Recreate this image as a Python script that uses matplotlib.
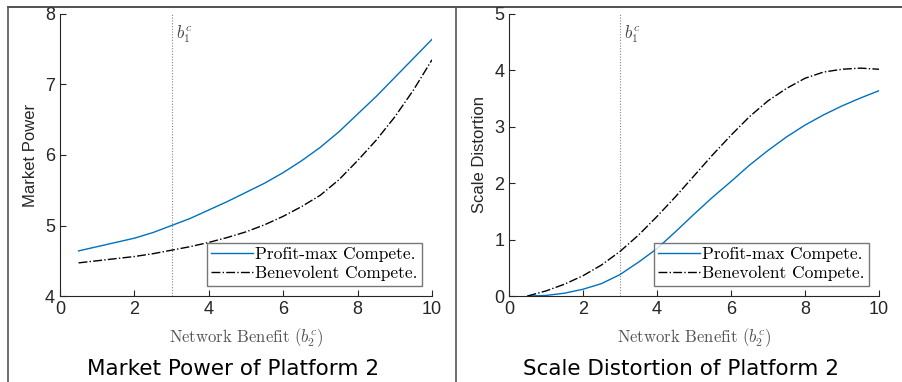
import numpy as np
import matplotlib.pyplot as plt
from matplotlib.lines import Line2D

plt.rcParams['mathtext.fontset'] = 'cm'

# benefit grid and the two measures for each regime
b2 = [0.5, 1, 1.5, 2, 2.5, 3, 3.5, 4, 4.5, 5, 5.5, 6, 6.5, 7, 7.5, 8, 8.5, 9, 9.5, 10]
power_profit = [4.64, 4.70, 4.76, 4.82, 4.90, 5.00, 5.10, 5.22, 5.34, 5.47,
                5.60, 5.75, 5.92, 6.11, 6.33, 6.58, 6.83, 7.10, 7.37, 7.64]
power_benev = [4.47, 4.50, 4.53, 4.56, 4.60, 4.65, 4.70, 4.76, 4.83, 4.91,
               5.01, 5.13, 5.27, 5.43, 5.65, 5.92, 6.21, 6.54, 6.92, 7.35]
scale_profit = [0.00, 0.01, 0.05, 0.12, 0.22, 0.38, 0.60, 0.84, 1.14, 1.45,
                1.75, 2.03, 2.32, 2.58, 2.82, 3.03, 3.21, 3.37, 3.51, 3.64]
scale_benev = [0.00, 0.09, 0.21, 0.36, 0.55, 0.79, 1.08, 1.41, 1.76, 2.13,
               2.50, 2.85, 3.18, 3.46, 3.68, 3.86, 3.97, 4.02, 4.04, 4.02]
b1_crit = 3

panels = [
    ("Market Power", "Market Power of Platform 2", power_profit, power_benev, (4, 8)),
    ("Scale Distortion", "Scale Distortion of Platform 2", scale_profit, scale_benev, (0, 5)),
]

fig = plt.figure(figsize=(9.03, 3.82), dpi=100)
boxes = [[0.0664, 0.2251, 0.412, 0.7383], [0.5637, 0.2251, 0.4097, 0.7383]]
centers = [0.258, 0.754]
ink = '#262626'

for box, cx, (ylab, title, prof, benev, ylim) in zip(boxes, centers, panels):
    ax = fig.add_axes(box)
    ax.axvline(b1_crit, color='#888888', lw=0.8, ls=(0, (1, 1.5)))
    ax.plot(b2, prof, color='#0072BD', lw=1.0, label='Profit-max Compete.')
    ax.plot(b2, benev, color='black', lw=1.0, ls='-.', label='Benevolent Compete.')
    ax.set_xlim(0, 10)
    ax.set_ylim(*ylim)
    ax.set_xticks(range(0, 11, 2))
    ax.set_yticks(range(ylim[0], ylim[1] + 1))
    ax.spines['top'].set_visible(False)
    ax.spines['right'].set_visible(False)
    for s in ('left', 'bottom'):
        ax.spines[s].set_color(ink)
        ax.spines[s].set_linewidth(0.8)
    ax.tick_params(direction='in', length=4, width=0.8, colors=ink, labelsize=13,
                   labelfontfamily='Liberation Sans')
    ax.set_ylabel(ylab, fontsize=12, color=ink, family='Liberation Sans', labelpad=5)
    ax.set_xlabel(r'Network Benefit ($b_2^c$)', fontsize=12, color='#555555',
                  family='cmr10', labelpad=6)
    ax.text(b1_crit + 0.12, ylim[1] - 0.035 * (ylim[1] - ylim[0]), r'$b_1^c$',
            fontsize=12, color='#444444', va='top', ha='left')
    leg = ax.legend(loc='lower right', prop={'family': 'cmr10', 'size': 12.5},
                    frameon=True, fancybox=False, edgecolor='#555555', handlelength=2.4,
                    handletextpad=0.1, borderpad=0.25, labelspacing=0.2,
                    borderaxespad=0.6)
    leg.get_frame().set_linewidth(1.0)
    fig.text(cx, 0.035, title, ha='center', va='center', fontsize=15.5,
             family='DejaVu Sans', color='black')

# table rules around the two panels
fig.add_artist(Line2D([0.009, 1.0], [0.982, 0.982], color='#333333', lw=1.2))
fig.add_artist(Line2D([0.009, 0.009], [0.0, 0.982], color='#555555', lw=1.2))
fig.add_artist(Line2D([0.505, 0.505], [0.0, 0.982], color='#555555', lw=1.2))

fig.savefig('out.png', dpi=100)
